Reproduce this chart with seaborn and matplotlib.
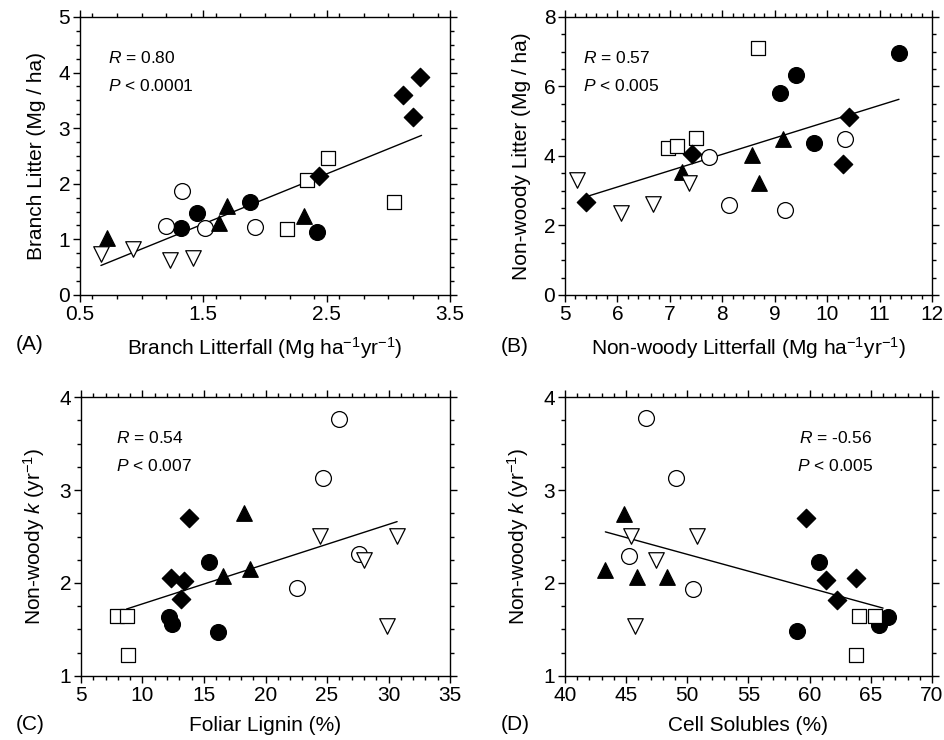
import numpy as np
import pandas as pd
import seaborn as sns
import matplotlib as mpl
import matplotlib.pyplot as plt
from matplotlib.ticker import MultipleLocator

sns.set_style("ticks")
mpl.rcParams['font.family'] = ['Liberation Sans', 'DejaVu Sans']
mpl.rcParams['mathtext.fontset'] = 'custom'
mpl.rcParams['mathtext.rm'] = 'Liberation Sans'
mpl.rcParams['mathtext.it'] = 'Liberation Sans:italic'
mpl.rcParams['axes.edgecolor'] = 'black'
mpl.rcParams['axes.linewidth'] = 1.0
mpl.rcParams['xtick.color'] = 'black'
mpl.rcParams['ytick.color'] = 'black'
mpl.rcParams['text.color'] = 'black'
mpl.rcParams['axes.labelcolor'] = 'black'

# site groups -> marker look
sites = ['S1', 'S2', 'S3', 'S4', 'S5', 'S6']
site_marker = {'S1': 'o', 'S2': 'o', 'S3': '^', 'S4': 'v', 'S5': 's', 'S6': 'D'}
site_fill = {'S1': 'black', 'S2': 'white', 'S3': 'black', 'S4': 'white', 'S5': 'white', 'S6': 'black'}
site_size = {'o': 130, '^': 125, 'v': 125, 's': 100, 'D': 88}

# (A) branch litterfall vs branch litter
a_site = ['S1'] * 4 + ['S2'] * 4 + ['S3'] * 4 + ['S4'] * 4 + ['S5'] * 4 + ['S6'] * 4
a_x = [1.32, 1.45, 1.88, 2.42, 1.33, 1.20, 1.51, 1.92, 0.72, 1.69, 1.63, 2.32,
       0.67, 0.93, 1.23, 1.42, 2.18, 2.34, 2.51, 3.05, 2.44, 3.12, 3.26, 3.20]
a_y = [1.21, 1.47, 1.67, 1.14, 1.87, 1.24, 1.20, 1.23, 1.02, 1.60, 1.30, 1.42,
       0.74, 0.82, 0.63, 0.66, 1.18, 2.07, 2.47, 1.68, 2.14, 3.60, 3.92, 3.20]
a_fit_x = [0.67, 3.27]
a_fit_y = [0.53, 2.87]

# (B) non-woody litterfall vs non-woody litter
b_site = ['S1'] * 4 + ['S2'] * 4 + ['S3'] * 4 + ['S4'] * 4 + ['S5'] * 4 + ['S6'] * 4
b_x = [9.11, 9.40, 9.74, 11.37, 7.75, 8.13, 9.20, 10.35, 7.23, 8.57, 8.70, 9.16,
       5.22, 6.07, 6.68, 7.37, 6.97, 7.14, 7.49, 8.69, 5.41, 7.42, 10.42, 10.31]
b_y = [5.82, 6.33, 4.37, 6.96, 3.96, 2.59, 2.45, 4.48, 3.55, 4.03, 3.23, 4.48,
       3.31, 2.35, 2.61, 3.21, 4.22, 4.30, 4.53, 7.12, 2.67, 4.06, 5.11, 3.76]
b_fit_x = [5.41, 11.37]
b_fit_y = [2.83, 5.63]

# (C) foliar lignin vs non-woody k
c_site = ['S1'] * 4 + ['S2'] * 4 + ['S3'] * 3 + ['S4'] * 4 + ['S5'] * 3 + ['S6'] * 4
c_x = [12.18, 12.42, 15.41, 16.16, 26.0, 24.7, 27.6, 22.6, 18.25, 16.57, 18.74,
       24.4, 28.0, 30.7, 29.9, 7.95, 8.76, 8.80, 13.78, 12.32, 13.40, 13.13]
c_y = [1.63, 1.56, 2.23, 1.47, 3.76, 3.13, 2.31, 1.95, 2.75, 2.08, 2.15,
       2.51, 2.25, 2.51, 1.54, 1.65, 1.65, 1.23, 2.70, 2.05, 2.02, 1.83]
c_fit_x = [8.7, 30.7]
c_fit_y = [1.72, 2.66]

# (D) cell solubles vs non-woody k
d_site = ['S1'] * 4 + ['S2'] * 4 + ['S3'] * 4 + ['S4'] * 4 + ['S5'] * 3 + ['S6'] * 4
d_x = [60.8, 59.0, 65.7, 66.4, 46.6, 49.1, 45.2, 50.5, 44.8, 43.3, 45.9, 48.3,
       45.4, 47.4, 50.8, 45.7, 64.0, 65.3, 63.8, 59.7, 61.3, 63.8, 62.2]
d_y = [2.23, 1.48, 1.55, 1.63, 3.77, 3.13, 2.29, 1.94, 2.74, 2.14, 2.06, 2.06,
       2.51, 2.25, 2.51, 1.54, 1.65, 1.65, 1.23, 2.70, 2.03, 2.05, 1.82]
d_fit_x = [43.3, 66.0]
d_fit_y = [2.55, 1.73]


def panel(ax, site, x, y, fit_x, fit_y):
    sns.lineplot(x=fit_x, y=fit_y, color='black', linewidth=1.0, ax=ax, zorder=2)
    df = pd.DataFrame({'site': site, 'x': x, 'y': y})
    for s in sites:
        sub = df[df['site'] == s]
        if len(sub) == 0:
            continue
        m = site_marker[s]
        sns.scatterplot(data=sub, x='x', y='y', marker=m, s=site_size[m],
                        color=site_fill[s], edgecolor='black', linewidth=0.9,
                        ax=ax, zorder=3, legend=False)


def style(ax, xlim, ylim, xmaj, xmin, ymaj, ymin, xlabel, ylabel):
    ax.set_xlim(*xlim)
    ax.set_ylim(*ylim)
    ax.xaxis.set_major_locator(MultipleLocator(xmaj))
    ax.xaxis.set_minor_locator(MultipleLocator(xmin))
    ax.yaxis.set_major_locator(MultipleLocator(ymaj))
    ax.yaxis.set_minor_locator(MultipleLocator(ymin))
    ax.tick_params(which='both', direction='out', top=True, right=True,
                   width=1.0, labelsize=15, pad=2)
    ax.tick_params(which='major', length=5)
    ax.tick_params(which='minor', length=3)
    for sp in ax.spines.values():
        sp.set_visible(True)
    ax.set_xlabel(xlabel, fontsize=15, labelpad=8)
    ax.set_ylabel(ylabel, fontsize=15, labelpad=9)


def stats(ax, r, p, x, ha='left'):
    ax.text(x, 0.852, r'$R$ = ' + r, transform=ax.transAxes, fontsize=12.5, ha=ha, va='center')
    ax.text(x, 0.752, r'$P$ < ' + p, transform=ax.transAxes, fontsize=12.5, ha=ha, va='center')


fig = plt.figure(figsize=(9.44, 7.4), dpi=100)
ax_a = fig.add_axes([0.0847, 0.6014, 0.3919, 0.3757])
ax_b = fig.add_axes([0.5985, 0.6014, 0.3888, 0.3757])
ax_c = fig.add_axes([0.0858, 0.0865, 0.3909, 0.3770])
ax_d = fig.add_axes([0.5985, 0.0865, 0.3888, 0.3770])

panel(ax_a, a_site, a_x, a_y, a_fit_x, a_fit_y)
style(ax_a, (0.5, 3.5), (0, 5), 1, 0.2, 1, 0.25,
      r'Branch Litterfall (Mg ha$^{-1}$yr$^{-1}$)', 'Branch Litter (Mg / ha)')
ax_a.set_xticks([0.5, 1.5, 2.5, 3.5])
stats(ax_a, '0.80', '0.0001', 0.076)

panel(ax_b, b_site, b_x, b_y, b_fit_x, b_fit_y)
style(ax_b, (5, 12), (0, 8), 1, 0.2, 2, 0.5,
      r'Non-woody Litterfall (Mg ha$^{-1}$yr$^{-1}$)', 'Non-woody Litter (Mg / ha)')
stats(ax_b, '0.57', '0.005', 0.049)

panel(ax_c, c_site, c_x, c_y, c_fit_x, c_fit_y)
style(ax_c, (5, 35), (1, 4), 5, 1, 1, 0.25,
      'Foliar Lignin (%)', r'Non-woody $k$ (yr$^{-1}$)')
stats(ax_c, '0.54', '0.007', 0.095)

panel(ax_d, d_site, d_x, d_y, d_fit_x, d_fit_y)
style(ax_d, (40, 70), (1, 4), 5, 1, 1, 0.25,
      'Cell Solubles (%)', r'Non-woody $k$ (yr$^{-1}$)')
stats(ax_d, '-0.56', '0.005', 0.736, ha='center')

for lab, px, py in [('(A)', 30, 344), ('(B)', 515, 346), ('(C)', 30, 724), ('(D)', 515, 724)]:
    fig.text(px / 944, 1 - py / 740, lab, fontsize=15, ha='center', va='center')

fig.savefig('out.png', dpi=100)
